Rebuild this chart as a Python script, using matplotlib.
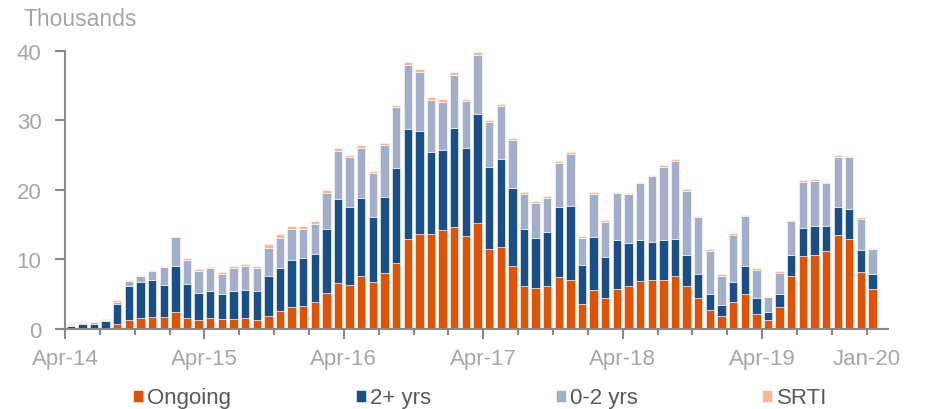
import numpy as np
import pandas as pd
import matplotlib
matplotlib.use("Agg")
import matplotlib.pyplot as plt

plt.rcParams['font.family'] = ['Liberation Sans', 'DejaVu Sans']

# months Apr-14 .. Jan-20
months = pd.date_range("2014-04-01", periods=70, freq="MS")

# thousands
ongoing = [0.1, 0.1, 0.1, 0.2, 0.7, 1.35, 1.6, 1.7, 1.75, 2.45, 1.6, 1.3,
           1.6, 1.45, 1.5, 1.55, 1.35, 1.9, 2.6, 3.1, 3.35, 3.85, 5.2, 6.65,
           6.3, 7.65, 6.75, 8.0, 9.55, 13.0, 13.6, 13.6, 14.25, 14.6, 13.35, 15.2,
           11.55, 11.8, 9.05, 6.25, 5.9, 6.2, 7.45, 7.0, 3.65, 5.6, 4.5, 5.75,
           6.15, 6.95, 7.0, 7.05, 7.6, 6.2, 4.45, 2.7, 1.85, 3.85, 5.0, 2.15,
           1.35, 3.1, 7.6, 10.55, 10.6, 11.15, 13.5, 12.9, 8.25, 5.75]
two_plus = [0.3, 0.55, 0.6, 0.9, 2.9, 4.85, 5.2, 5.35, 4.6, 6.65, 4.8, 3.9,
            3.9, 3.55, 4.0, 4.1, 4.15, 5.65, 6.2, 6.75, 6.85, 6.9, 9.2, 12.0,
            11.2, 11.2, 9.35, 11.0, 13.6, 15.7, 14.8, 11.8, 11.45, 14.3, 12.7, 15.7,
            11.7, 12.7, 11.25, 8.1, 7.25, 7.8, 10.05, 10.75, 5.55, 7.6, 5.9, 7.05,
            6.25, 5.8, 5.45, 5.75, 5.35, 4.4, 3.5, 2.4, 1.65, 2.9, 4.1, 2.3,
            1.15, 2.0, 3.0, 4.0, 4.15, 3.6, 4.1, 4.3, 3.05, 2.15]
zero_two = [0.15, 0.2, 0.25, 0.2, 0.3, 0.7, 0.8, 1.3, 2.6, 4.1, 3.55, 3.15,
            3.2, 2.95, 3.2, 3.35, 3.2, 4.15, 4.3, 4.55, 4.2, 4.35, 5.2, 7.0,
            7.25, 7.2, 6.35, 7.45, 8.8, 9.3, 8.5, 7.5, 6.9, 7.65, 6.7, 8.5,
            6.5, 7.5, 6.8, 5.0, 4.95, 4.9, 6.35, 7.45, 3.9, 6.15, 5.0, 6.7,
            6.95, 8.2, 9.5, 10.45, 11.2, 9.3, 8.1, 6.1, 4.1, 6.8, 7.1, 4.05,
            2.05, 3.0, 4.9, 6.55, 6.55, 6.2, 7.1, 7.45, 4.55, 3.55]
srti = [0.1, 0.1, 0.1, 0.15, 0.25, 0.15, 0.15, 0.15, 0.15, 0.15, 0.2, 0.25,
        0.25, 0.3, 0.3, 0.35, 0.4, 0.5, 0.5, 0.4, 0.4, 0.4, 0.35, 0.35,
        0.3, 0.35, 0.3, 0.25, 0.3, 0.4, 0.4, 0.4, 0.4, 0.35, 0.35, 0.35,
        0.25, 0.3, 0.3, 0.3, 0.25, 0.25, 0.3, 0.25, 0.25, 0.35, 0.25, 0.2,
        0.2, 0.25, 0.25, 0.25, 0.25, 0.2, 0.15, 0.25, 0.25, 0.2, 0.15, 0.2,
        0.25, 0.2, 0.2, 0.3, 0.2, 0.2, 0.25, 0.15, 0.2, 0.2]

series = ["Ongoing", "2+ yrs", "0-2 yrs", "SRTI"]
colors = ["#E05206", "#1A4E86", "#A3AECB", "#F9B797"]
tick_labels = ["Apr-14", "Apr-15", "Apr-16", "Apr-17", "Apr-18", "Apr-19"]

df = pd.DataFrame({"Ongoing": ongoing, "2+ yrs": two_plus,
                   "0-2 yrs": zero_two, "SRTI": srti}, index=months)

fig = plt.figure(figsize=(9.32, 4.10), dpi=100)
ax = fig.add_axes([65 / 932, 80 / 410, (888 - 65) / 932, (330 - 51.7) / 410])

x = np.arange(len(df))
bottom = np.zeros(len(df))
for name, c in zip(series, colors):
    ax.bar(x, df[name], width=0.72, bottom=bottom, color=c,
           edgecolor="white", linewidth=0.4, label=name)
    bottom += df[name].values

grey = "#898989"
ax.set_xlim(-0.5, 70.33)
ax.set_ylim(0, 40)
ax.set_yticks([0, 10, 20, 30, 40])
for s in ["top", "right"]:
    ax.spines[s].set_visible(False)
for s in ["left", "bottom"]:
    ax.spines[s].set_color(grey)
    ax.spines[s].set_linewidth(1.5)

# April ticks are long, every quarter short; Jan-20 label on a short one
april = [i - 0.5 for i in range(len(df)) if months[i].month == 4]
quarters = [i - 0.5 for i in range(len(df)) if months[i].month in (1, 7, 10)]
ax.set_xticks(april, labels=tick_labels)
minor_lab = [""] * len(quarters)
minor_lab[-1] = "Jan-20"
ax.set_xticks(quarters, labels=minor_lab, minor=True)

ax.tick_params(axis="x", which="major", length=7, width=1.5, color=grey,
               labelcolor="#A6A6A6", labelsize=16, pad=7)
ax.tick_params(axis="x", which="minor", length=4, width=1.5, color=grey,
               labelcolor="#A6A6A6", labelsize=16, pad=10)
ax.tick_params(axis="y", length=7, width=1.5, color=grey,
               labelcolor="#A6A6A6", labelsize=16, pad=10)

fig.text(24 / 932, 1 - 20 / 410, "Thousands", color="#A6A6A6",
         fontsize=16.5, va="center", ha="left")

fig.legend(loc="center", bbox_to_anchor=(0.515, 11 / 410), ncol=4,
           frameon=False, fontsize=16, labelcolor="#595959",
           handlelength=0.45, handleheight=0.45, handletextpad=0.2,
           columnspacing=5.6, borderpad=0)

fig.savefig("out.png", dpi=100)
